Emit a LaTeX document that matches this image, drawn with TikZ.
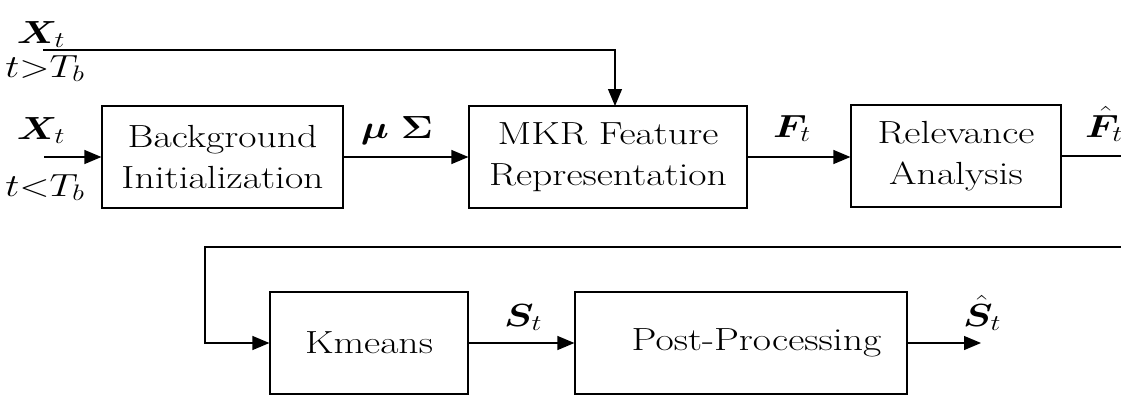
\RequirePackage{fix-cm}
\documentclass[tikz,border=0pt]{standalone}
\usepackage{amsmath}
\usepackage{bm}
\usepackage{graphicx}
\usepackage{fontspec}
\usetikzlibrary{arrows.meta}
\newcommand{\sx}[1]{\scalebox{1.24}[1]{#1}}
\tikzset{
  big/.style={font=\fontsize{32}{41}\selectfont},
  blk/.style={draw, line width=1.2pt, big, align=center, inner sep=0pt, minimum height=102pt},
  lbl/.style={big, inner sep=0pt, anchor=base},
  wire/.style={line width=1.2pt},
  arr/.style={line width=1.2pt, -{Triangle[length=17pt,width=14pt]}},
}
\begin{document}
\begin{tikzpicture}[x=1pt,y=-1pt]
\useasboundingbox (0,0) rectangle (1121,397);
% boxes
\node[blk, minimum width=241pt] (bg) at (222.5,157) {\sx{Background}\\\sx{Initialization}};
\node[blk, minimum width=278pt] (mkr) at (608,157) {\sx{MKR Feature}\\\sx{Representation}};
\node[blk, minimum width=210pt] (rel) at (956,156) {\sx{Relevance}\\\sx{Analysis}};
\node[blk, minimum width=198pt] (km) at (369,343) {\sx{Kmeans}};
\node[blk, minimum width=332pt, text width=332pt] (pp) at (741,343) {\hspace*{31pt}\sx{Post-Processing}\hfill};
% coordinates
\coordinate (in) at (44,157);
\coordinate (top) at (43,50);
\coordinate (mkrin) at (615,106);
\coordinate (out1) at (1121,156);
\coordinate (ret) at (1121,247);
\coordinate (retl) at (205,247);
\coordinate (out2) at (981,343);
% connectors
\draw[arr] (in) -- (bg.west);
\draw[arr] (top) -| (mkrin);
\draw[arr] (bg.east) -- (bg.east -| mkr.west);
\draw[arr] (mkr.east) -- (mkr.east -| rel.west);
\draw[wire] (rel.east) -- (out1);
\draw[arr] (ret) -- (retl) |- (km.west);
\draw[arr] (km.east) -- (pp.west);
\draw[arr] (pp.east) -- (out2);
% labels
\node[lbl] (x1) at (41,43) {\sx{$\bm{X}_t$}};
\node[lbl] (c1) at (45,77) {\sx{$t{>}T_b$}};
\node[lbl] (x2) at (41,139) {\sx{$\bm{X}_t$}};
\node[lbl] (c2) at (45,196) {\sx{$t{<}T_b$}};
\node[lbl] (ms) at (397,138) {\sx{$\bm{\mu}\ \bm{\Sigma}$}};
\node[lbl] (ft) at (792,137) {\sx{$\bm{F}_t$}};
\node[lbl] (fh) at (1104,137) {\sx{$\bm{\hat{F}}_t$}};
\node[lbl] (st) at (523,326) {\sx{$\bm{S}_t$}};
\node[lbl] (sh) at (982,326) {\sx{$\bm{\hat{S}}_t$}};
\end{tikzpicture}
\end{document}
